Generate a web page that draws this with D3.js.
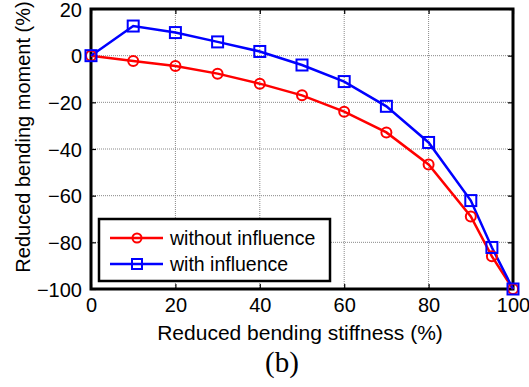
<!DOCTYPE html>
<html><head><meta charset="utf-8">
<script src="https://cdn.jsdelivr.net/npm/d3@7"></script>
<style>body{margin:0;background:#fff}svg{display:block}</style>
</head><body>
<script>
const xValues = [0,10,20,30,40,50,60,70,80,90,95,100];
const withoutInfluence = [0,-2.3,-4.4,-7.7,-12,-17,-24,-32.9,-46.6,-68.9,-86,-100];
const withInfluence = [0,12.7,9.9,5.9,1.8,-4,-11.1,-21.7,-37.2,-62.1,-82.2,-100];
const xTicks = [0,20,40,60,80,100];
const yTicks = [20,0,-20,-40,-60,-80,-100];
const seriesNames = ["without influence","with influence"];

const W=529,H=387;
const svg=d3.select("body").append("svg").attr("width",W).attr("height",H);
const L=91,R=513,T=9,B=289;
const x=d3.scaleLinear().domain([0,100]).range([L,R]);
const y=d3.scaleLinear().domain([-100,20]).range([B,T]);
const font="Arial, 'Liberation Sans', sans-serif";

// grid
const g=svg.append("g");
g.selectAll(".vg").data(xTicks.slice(1,-1)).join("line")
 .attr("x1",d=>x(d)).attr("x2",d=>x(d)).attr("y1",T).attr("y2",B)
 .attr("stroke","#888").attr("stroke-width",1).attr("stroke-dasharray","1,1");
g.selectAll(".hg").data(yTicks.slice(1,-1)).join("line")
 .attr("y1",d=>y(d)).attr("y2",d=>y(d)).attr("x1",L).attr("x2",R)
 .attr("stroke","#888").attr("stroke-width",1).attr("stroke-dasharray","1,1");

// axes with inward ticks
const xa=svg.append("g").attr("transform",`translate(0,${B})`)
 .call(d3.axisBottom(x).tickValues(xTicks).tickSize(-5).tickPadding(9));
const ya=svg.append("g").attr("transform",`translate(${L},0)`)
 .call(d3.axisLeft(y).tickValues(yTicks).tickSize(-5).tickPadding(9));
const xt=svg.append("g").attr("transform",`translate(0,${T})`)
 .call(d3.axisTop(x).tickValues(xTicks).tickSize(-5).tickFormat(""));
const yr=svg.append("g").attr("transform",`translate(${R},0)`)
 .call(d3.axisRight(y).tickValues(yTicks).tickSize(-5).tickFormat(""));
[xa,ya,xt,yr].forEach(a=>{
  a.select(".domain").remove();
  a.selectAll(".tick line").attr("stroke","#000").attr("stroke-width",1.2);
  a.selectAll("text").attr("font-family",font).attr("font-size",20).attr("fill","#000");
});
ya.selectAll("text").attr("dy","0.36em");
svg.append("rect").attr("x",L).attr("y",T).attr("width",R-L).attr("height",B-T)
 .attr("fill","none").attr("stroke","#000").attr("stroke-width",3);

const line=d3.line().x((d,i)=>x(xValues[i])).y(d=>y(d));
const colors=["#ff0000","#0000ff"];
const data=[withoutInfluence,withInfluence];
data.forEach((s,k)=>{
  svg.append("path").datum(s).attr("d",line).attr("fill","none")
   .attr("stroke",colors[k]).attr("stroke-width",2.5);
});
data.forEach((s,k)=>{
  if(k===0){
    svg.selectAll(".c").data(s).join("circle").attr("cx",(d,i)=>x(xValues[i])).attr("cy",d=>y(d))
     .attr("r",5).attr("fill","none").attr("stroke",colors[0]).attr("stroke-width",2);
  } else {
    svg.selectAll(".sq").data(s).join("rect").attr("x",(d,i)=>x(xValues[i])-5.5).attr("y",d=>y(d)-5.5)
     .attr("width",11).attr("height",11).attr("fill","none").attr("stroke",colors[1]).attr("stroke-width",2);
  }
});

// legend
const lg=svg.append("g");
lg.append("rect").attr("x",99).attr("y",219).attr("width",231).attr("height",62)
 .attr("fill","#fff").attr("stroke","#000").attr("stroke-width",2.5);
seriesNames.forEach((n,k)=>{
  const yy=238+k*26;
  lg.append("line").attr("x1",110).attr("x2",163).attr("y1",yy).attr("y2",yy)
   .attr("stroke",colors[k]).attr("stroke-width",2.5);
  if(k===0) lg.append("circle").attr("cx",137).attr("cy",yy).attr("r",4.5)
   .attr("fill","none").attr("stroke",colors[k]).attr("stroke-width",2);
  else lg.append("rect").attr("x",132).attr("y",yy-5).attr("width",10).attr("height",10)
   .attr("fill","none").attr("stroke",colors[k]).attr("stroke-width",2);
  lg.append("text").attr("x",170).attr("y",yy).attr("dy","0.35em").text(n)
   .attr("font-family",font).attr("font-size",19.5).attr("fill","#000");
});

// titles
svg.append("text").attr("x",300).attr("y",340).attr("text-anchor","middle")
 .attr("font-family",font).attr("font-size",21).text("Reduced bending stiffness (%)");
svg.append("text").attr("transform",`translate(30,137) rotate(-90)`).attr("text-anchor","middle")
 .attr("font-family",font).attr("font-size",20).text("Reduced bending moment (%)");
svg.append("text").attr("x",282).attr("y",372).attr("text-anchor","middle")
 .attr("font-family","'Liberation Serif', 'Times New Roman', serif").attr("font-size",29).text("(b)");
</script>
</body></html>
